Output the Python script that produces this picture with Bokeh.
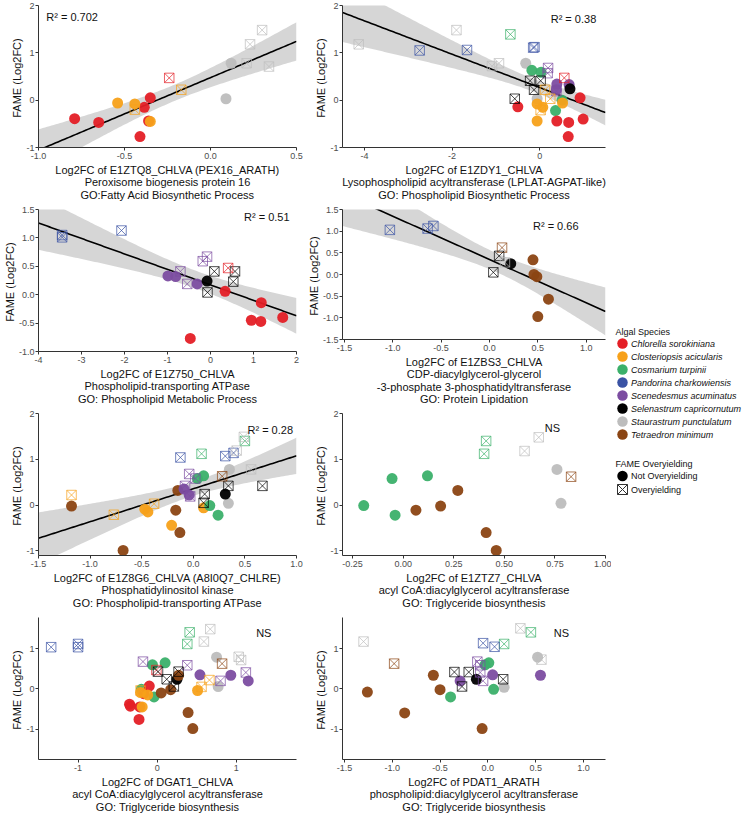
import numpy as np
from bokeh.plotting import figure
from bokeh.models import Range1d, FixedTicker, NumeralTickFormatter, Label
from bokeh.layouts import row, column
from bokeh.embed import file_html
from bokeh.resources import INLINE
from bokeh.core.properties import value

FONT = "Liberation Sans"

SPECIES = ["Chlorella sorokiniana", "Closteriopsis acicularis", "Cosmarium turpinii",
           "Pandorina charkowiensis", "Scenedesmus acuminatus", "Selenastrum capricornutum",
           "Staurastrum punctulatum", "Tetraedron minimum"]
SPECIES_CODE = ["C", "O", "G", "B", "P", "K", "S", "T"]
SPECIES_COLOR = ["#E41F26", "#F7A11A", "#3BB06A", "#3A53A4", "#7C4DA1", "#000000", "#BDBDBD", "#8B4513"]
OVER_LABELS = ["Not Overyielding", "Overyielding"]

# ---------------- panel data ----------------
p1_x = [-0.79, -0.65, -0.385, -0.35, -0.36, -0.41, -0.54, -0.44, -0.35, 0.12, 0.09, -0.24, -0.17, -0.44, 0.30, 0.23, 0.34, 0.21]
p1_y = [-0.39, -0.47, -0.15, 0.05, -0.44, -0.77, -0.06, -0.08, -0.45, 0.78, 0.03, 0.47, 0.22, -0.20, 1.48, 1.18, 0.71, 0.78]
p1_sp = list("CCCCCC" + "OOO" + "SS" + "C" + "OO" + "SSSS")
p1_ov = [0] * 11 + [1] * 7

p2_x = [-4.13, -1.90, -1.09, -0.93, -2.74, -1.66, -0.15, -0.12, -0.67, -0.32, -0.06, -0.18, 0.03, 0.36, 0.51,
        0.19, 0.18, 0.38, 0.39, 0.67, 0.38, 0.56, -0.22, 0.02, -0.13, -0.57, 0.69, 0.12, 0.24, 0.02,
        -0.06, 0.07, -0.06, 0.52, -0.50, 0.92, 0.39, 0.66, 0.99, 0.65]
p2_y = [1.18, 1.48, 0.72, 0.78, 1.05, 1.06, 1.11, 1.12, 1.39, 0.78, 0.03, 0.63, 0.59, -0.22, 0.0,
        0.68, 0.57, 0.19, 0.34, 0.33, 0.22, 0.47, 0.41, 0.41, 0.22, 0.03, 0.24, 0.22, 0.03, -0.21,
        -0.08, -0.15, -0.44, -0.06, -0.14, 0.05, -0.44, -0.47, -0.40, -0.77]
p2_sp = list("SSSS" + "BBBB" + "G" + "SS" + "GGGG" + "PPP" + "PPP" + "C" + "KKKK" + "K" + "OOO" + "OOOO" + "CCCCCC")
p2_ov = [1] * 9 + [0] * 6 + [1] * 3 + [0] * 3 + [1] * 5 + [0] + [1] * 3 + [0] * 10

p3_x = [-3.45, -3.45, -2.07, -0.18, -0.08, -0.70, -0.54, -0.99, -0.81, -0.31, -0.08, 0.09, 0.57, 0.53, -0.07,
        0.41, 0.34, 1.18, 0.95, 1.17, 1.68, -0.47]
p3_y = [1.05, 1.01, 1.13, 0.59, 0.67, 0.41, 0.19, 0.33, 0.32, 0.19, 0.24, 0.41, 0.41, 0.23, 0.04,
        0.47, 0.06, -0.14, -0.45, -0.47, -0.40, -0.77]
p3_sp = list("BBB" + "PPPP" + "PPP" + "K" + "KKKK" + "C" + "CCCCCC")
p3_ov = [1] * 7 + [0] * 4 + [1] * 5 + [0] * 6

p4_x = [-1.03, -0.64, -0.58, 0.13, 0.10, 0.04, 0.16, 0.22, 0.45, 0.46, 0.49, 0.61, 0.50]
p4_y = [1.03, 1.06, 1.12, 0.62, 0.43, 0.05, 0.28, 0.25, 0.34, 0.0, -0.05, -0.57, -0.97]
p4_sp = list("BBB" + "T" + "KK" + "S" + "K" + "TTTTT")
p4_ov = [1] * 7 + [0] * 6

p5_x = [-1.18, -0.77, -0.38, -1.18, -0.68, -0.17, -0.13, -0.15, -0.47, -0.44, -0.21, 0.10, -0.125, 0.31, 0.39,
        0.08, 0.50, 0.49, 0.42, 0.56, 0.35, 0.34, 0.04, 0.10, 0.16, 0.24, -0.04, 0.02, -0.08, -0.03,
        -0.04, -0.09, 0.11, 0.10, 0.34, 0.67, 0.31, 0.28]
p5_y = [0.22, -0.21, 0.03, -0.02, -0.99, -0.11, -0.60, 0.32, -0.09, -0.15, -0.44, -0.06, 1.04, 1.07, 1.14,
        1.12, 1.40, 1.49, 1.19, 0.78, 0.78, 0.04, 0.58, 0.64, -0.01, -0.22, 0.68, 0.58, 0.42, 0.19,
        0.22, 0.35, 0.24, 0.05, 0.42, 0.42, 0.24, 0.63]
p5_sp = list("OOO" + "TTTTT" + "OOOO" + "BBB" + "GG" + "SSS" + "SS" + "GGGG" + "PPPP" + "PP" + "KKKK" + "K" + "T")
p5_ov = [1] * 3 + [0] * 9 + [1] * 8 + [0] * 6 + [1] * 4 + [0] * 2 + [1] * 4 + [0] + [1]

p6_x = [-0.195, -0.055, -0.04, 0.12, 0.063, 0.185, 0.27, 0.41, 0.46, 0.41, 0.40, 0.60, 0.67, 0.76, 0.78, 0.83]
p6_y = [-0.01, 0.58, -0.22, 0.64, -0.11, -0.02, 0.32, -0.60, -0.99, 1.40, 1.12, 1.18, 1.48, 0.78, 0.04, 0.62]
p6_sp = list("GGGG" + "TTTTT" + "GG" + "SS" + "SS" + "T")
p6_ov = [0] * 9 + [1] * 4 + [0] * 2 + [1]

p7_x = [-1.34, -1.00, -1.00, 0.41, 0.38, 0.67, 0.59, 1.03, 1.06, 0.75, 0.77, 0.82, -0.18, 0.38, 0.80, 1.12,
        0.54, 0.93, 1.15, -0.06, 0.10, -0.20, -0.04, -0.01, 0.01, 0.12, 0.21, 0.27, 0.25, 0.27, 0.05, 0.17,
        0.39, 0.45, -0.35, -0.34, -0.10, -0.17, -0.22, -0.23, -0.21, -0.12, -0.19, 0.51, -0.21, 0.56, 0.66]
p7_y = [1.04, 1.04, 1.12, 1.41, 1.12, 1.49, 1.18, 0.80, 0.72, 0.79, 0.06, 0.63, 0.68, 0.59, 0.20, 0.41,
        0.35, 0.34, 0.20, 0.60, 0.65, -0.01, -0.20, 0.47, 0.43, 0.24, 0.06, 0.43, 0.24, 0.34, -0.10, -0.02,
        -0.59, -0.99, -0.38, -0.43, 0.07, -0.12, -0.45, -0.76, -0.09, -0.15, -0.45, -0.04, -0.04, 0.05, 0.22]
p7_sp = list("BBB" + "GG" + "SSSS" + "SS" + "T" + "PPPP" + "PPP" + "GGGG" + "C" + "KKKK" + "K" + "TTTTT" + "CCCCCC" + "OOOO" + "OOO")
p7_ov = [1] * 9 + [0] * 2 + [1] * 5 + [0] * 7 + [1] * 5 + [0] * 16 + [1] * 3

p8_x = [-1.30, 0.34, 0.56, 0.45, 0.17, -0.05, 0.07, -0.98, 0.52, 0.17, -0.11, -0.08, -0.08, -0.05,
        0.01, -0.03, 0.06, -0.39, 0.05, 0.55, -0.29, -0.12, -0.35, -0.20, -0.27, 0.16,
        -1.26, -0.57, -0.50, -0.87, -0.06]
p8_y = [1.18, 1.51, 0.73, 1.41, 1.12, 1.14, 1.05, 0.63, 0.79, 0.04, 0.68, 0.59, 0.41, 0.20,
        0.65, 0.60, -0.01, -0.20, 0.35, 0.34, 0.20, 0.24, 0.42, 0.42, 0.06, 0.24,
        -0.08, 0.34, -0.02, -0.60, -0.99]
p8_sp = list("SSS" + "GG" + "BB" + "T" + "SS" + "PPPP" + "GGGG" + "PPP" + "K" + "KKKK" + "TTTTT")
p8_ov = [1] * 8 + [0] * 2 + [1] * 4 + [0] * 8 + [1] * 4 + [0] * 5

# axis titles
p1_title = "Log2FC of E1ZTQ8_CHLVA (PEX16_ARATH)\nPeroxisome biogenesis protein 16\nGO:Fatty Acid Biosynthetic Process"
p2_title = "Log2FC of E1ZDY1_CHLVA\nLysophospholipid acyltransferase (LPLAT-AGPAT-like)\nGO: Phospholipid Biosynthetic Process"
p3_title = "Log2FC of E1Z750_CHLVA\nPhospholipid-transporting ATPase\nGO: Phospholipid Metabolic Process"
p4_title = "Log2FC of E1ZBS3_CHLVA\nCDP-diacylglycerol-glycerol\n-3-phosphate 3-phosphatidyltransferase\nGO: Protein Lipidation"
p5_title = "Log2FC of E1Z8G6_CHLVA (A8I0Q7_CHLRE)\nPhosphatidylinositol kinase\nGO: Phospholipid-transporting ATPase"
p6_title = "Log2FC of E1ZTZ7_CHLVA\nacyl CoA:diacylglycerol acyltransferase\nGO: Triglyceride biosynthesis"
p7_title = "Log2FC of DGAT1_CHLVA\nacyl CoA:diacylglycerol acyltransferase\nGO: Triglyceride biosynthesis"
p8_title = "Log2FC of PDAT1_ARATH\nphospholipid:diacylglycerol acyltransferase\nGO: Triglyceride biosynthesis"

# annotation text (R squared / NS)
p1_note, p2_note, p3_note, p4_note = "R\u00b2 = 0.702", "R\u00b2 = 0.38", "R\u00b2 = 0.51", "R\u00b2 = 0.66"
p5_note, p6_note, p7_note, p8_note = "R\u00b2 = 0.28", "NS", "NS", "NS"

# axis ticks
p1_xt, p1_yt = [-1.0, -0.5, 0.0, 0.5], [-1, 0, 1, 2]
p2_xt, p2_yt = [-4, -2, 0], [-1, 0, 1, 2]
p3_xt, p3_yt = [-4, -3, -2, -1, 0, 1, 2], [-1.0, -0.5, 0.0, 0.5, 1.0, 1.5]
p4_xt, p4_yt = [-1.5, -1.0, -0.5, 0.0, 0.5, 1.0], [-1.5, -1.0, -0.5, 0.0, 0.5, 1.0, 1.5]
p5_xt, p5_yt = [-1.5, -1.0, -0.5, 0.0, 0.5, 1.0], [-1, 0, 1, 2]
p6_xt, p6_yt = [-0.25, 0.0, 0.25, 0.5, 0.75, 1.0], [-1, 0, 1, 2]
p7_xt, p7_yt = [-1, 0, 1], [-1, 0, 1]
p8_xt, p8_yt = [-1.5, -1.0, -0.5, 0.0, 0.5, 1.0], [-1, 0, 1]

# ---------------- helpers ----------------
ROW_H = 204
LEFT_W, RIGHT_W, LEG_W = 304, 307, 131
AXIS_COL = "#333333"
TICK_COL = "#4D4D4D"


def t975(df):
    z = 1.959964
    g1 = (z ** 3 + z) / 4
    g2 = (5 * z ** 5 + 16 * z ** 3 + 3 * z) / 96
    g3 = (3 * z ** 7 + 19 * z ** 5 + 17 * z ** 3 - 15 * z) / 384
    return z + g1 / df + g2 / df ** 2 + g3 / df ** 3


def panel(xs, ys, sp, ov, title, xr, yr, xt, yt, xfmt, yfmt, note, note_pos, fit, width, right_border):
    p = figure(width=width, height=ROW_H, x_range=Range1d(*xr), y_range=Range1d(*yr),
               output_backend="svg", toolbar_location=None,
               min_border_left=33, min_border_right=right_border, min_border_top=5, min_border_bottom=57)
    p.outline_line_color = None
    p.grid.visible = False
    p.background_fill_color = "white"
    for ax in (p.xaxis[0], p.yaxis[0]):
        ax.axis_line_color = AXIS_COL
        ax.axis_line_width = 1
        ax.major_tick_line_color = AXIS_COL
        ax.major_tick_out = 3
        ax.major_tick_in = 0
        ax.minor_tick_line_color = None
        ax.major_label_text_font = FONT
        ax.major_label_text_font_size = "9px"
        ax.major_label_text_color = TICK_COL
        ax.major_label_standoff = 2
        ax.axis_label_text_font = FONT
        ax.axis_label_text_font_size = "11px"
        ax.axis_label_text_font_style = "normal"
        ax.axis_label_text_color = "#111111"
        ax.axis_label_standoff = 2
    p.yaxis.major_label_standoff = 1
    p.xaxis.ticker = FixedTicker(ticks=xt)
    p.yaxis.ticker = FixedTicker(ticks=yt)
    p.xaxis.formatter = NumeralTickFormatter(format=xfmt)
    p.yaxis.formatter = NumeralTickFormatter(format=yfmt)
    p.xaxis.axis_label = title
    p.xaxis.axis_label_text_line_height = 1.05
    p.yaxis.axis_label = "FAME  (Log2FC)"
    p.yaxis.axis_label_standoff = 0

    x = np.array(xs, dtype=float)
    y = np.array(ys, dtype=float)
    if fit:
        n = len(x)
        b, a = np.polyfit(x, y, 1)
        resid = y - (a + b * x)
        s = np.sqrt(np.sum(resid ** 2) / (n - 2))
        xm = x.mean()
        sxx = np.sum((x - xm) ** 2)
        gx = np.linspace(xr[0], xr[1], 120)
        gy = a + b * gx
        se = s * np.sqrt(1.0 / n + (gx - xm) ** 2 / sxx)
        tq = t975(n - 2)
        p.varea(x=gx, y1=gy - tq * se, y2=gy + tq * se, fill_color="#999999", fill_alpha=0.4)
        p.line(gx, gy, line_color="black", line_width=1.6)

    col = [SPECIES_COLOR[SPECIES_CODE.index(c)] for c in sp]
    ov = np.array(ov)
    ci = np.where(ov == 0)[0]
    si = np.where(ov == 1)[0]
    p.scatter(x[ci], y[ci], marker="circle", size=11, fill_color=[col[i] for i in ci],
              line_color=None, fill_alpha=0.95)
    p.scatter(x[si], y[si], marker="square_x", size=9.5, fill_color=None,
              line_color=[col[i] for i in si], line_alpha=0.7, line_width=1)

    p.add_layout(Label(x=note_pos[0], y=note_pos[1], text=note, text_font=FONT,
                       text_font_size="11px", text_baseline="middle", text_align="left",
                       text_color="#111111"))
    return p


f1 = panel(p1_x, p1_y, p1_sp, p1_ov, p1_title, (-1.0, 0.5), (-1.0, 2.0), p1_xt, p1_yt, "0.0", "0",
           p1_note, (-0.955, 1.75), True, LEFT_W, 8)
f2 = panel(p2_x, p2_y, p2_sp, p2_ov, p2_title, (-4.5, 1.5), (-1.0, 2.0), p2_xt, p2_yt, "0", "0",
           p2_note, (0.25, 1.72), True, RIGHT_W, 6)
f3 = panel(p3_x, p3_y, p3_sp, p3_ov, p3_title, (-4.0, 2.0), (-1.0, 1.5), p3_xt, p3_yt, "0", "0.0",
           p3_note, (0.78, 1.37), True, LEFT_W, 8)
f4 = panel(p4_x, p4_y, p4_sp, p4_ov, p4_title, (-1.52, 1.2), (-1.5, 1.5), p4_xt, p4_yt, "0.0", "0.0",
           p4_note, (0.45, 1.13), True, RIGHT_W, 6)
f5 = panel(p5_x, p5_y, p5_sp, p5_ov, p5_title, (-1.5, 1.0), (-1.1, 2.0), p5_xt, p5_yt, "0.0", "0",
           p5_note, (0.525, 1.65), True, LEFT_W, 8)
f6 = panel(p6_x, p6_y, p6_sp, p6_ov, p6_title, (-0.30, 1.0), (-1.1, 2.0), p6_xt, p6_yt, "0.00", "0",
           p6_note, (0.70, 1.69), False, RIGHT_W, 6)
f7 = panel(p7_x, p7_y, p7_sp, p7_ov, p7_title, (-1.5, 1.76), (-1.76, 1.78), p7_xt, p7_yt, "0", "0",
           p7_note, (1.25, 1.40), False, LEFT_W, 8)
f8 = panel(p8_x, p8_y, p8_sp, p8_ov, p8_title, (-1.52, 1.23), (-1.76, 1.78), p8_xt, p8_yt, "0.0", "0",
           p8_note, (0.69, 1.40), False, RIGHT_W, 6)

# ---------------- legend (own figure, pixel units) ----------------
H = 4 * ROW_H
leg = figure(width=LEG_W, height=H, x_range=Range1d(0, LEG_W), y_range=Range1d(0, H),
             output_backend="svg", toolbar_location=None, min_border=0)
leg.axis.visible = False
leg.grid.visible = False
leg.outline_line_color = None

top = H - 331.0
sp_y = (top - 12.0) - 13.0 * np.arange(len(SPECIES))
leg.text(x=[4], y=[top], text=["Algal Species"], text_font=value(FONT), text_font_size="9px",
         text_baseline="middle", text_color="#111111")
leg.scatter(x=np.full(len(SPECIES), 11.0), y=sp_y, marker="circle", size=10.5,
            fill_color=SPECIES_COLOR, line_color=None)
leg.text(x=np.full(len(SPECIES), 19.5), y=sp_y, text=SPECIES, text_font=value(FONT),
         text_font_size="9px", text_font_style="italic", text_baseline="middle", text_color="#111111")

top2 = H - 463.0
ov_y = (top2 - 12.5) - 13.5 * np.arange(len(OVER_LABELS))
leg.text(x=[4], y=[top2], text=["FAME Overyielding"], text_font=value(FONT), text_font_size="9px",
         text_baseline="middle", text_color="#111111")
leg.scatter(x=[11.0], y=ov_y[:1], marker="circle", size=10.5, fill_color="black", line_color=None)
leg.scatter(x=[11.0], y=ov_y[1:], marker="square_x", size=10, fill_color=None, line_color="#333333",
            line_width=1)
leg.text(x=np.full(len(OVER_LABELS), 19.5), y=ov_y, text=OVER_LABELS, text_font=value(FONT),
         text_font_size="9px", text_baseline="middle", text_color="#111111")

layout = row(column(f1, f3, f5, f7), column(f2, f4, f6, f8), leg)

open("out.html", "w").write(file_html(layout, INLINE))
